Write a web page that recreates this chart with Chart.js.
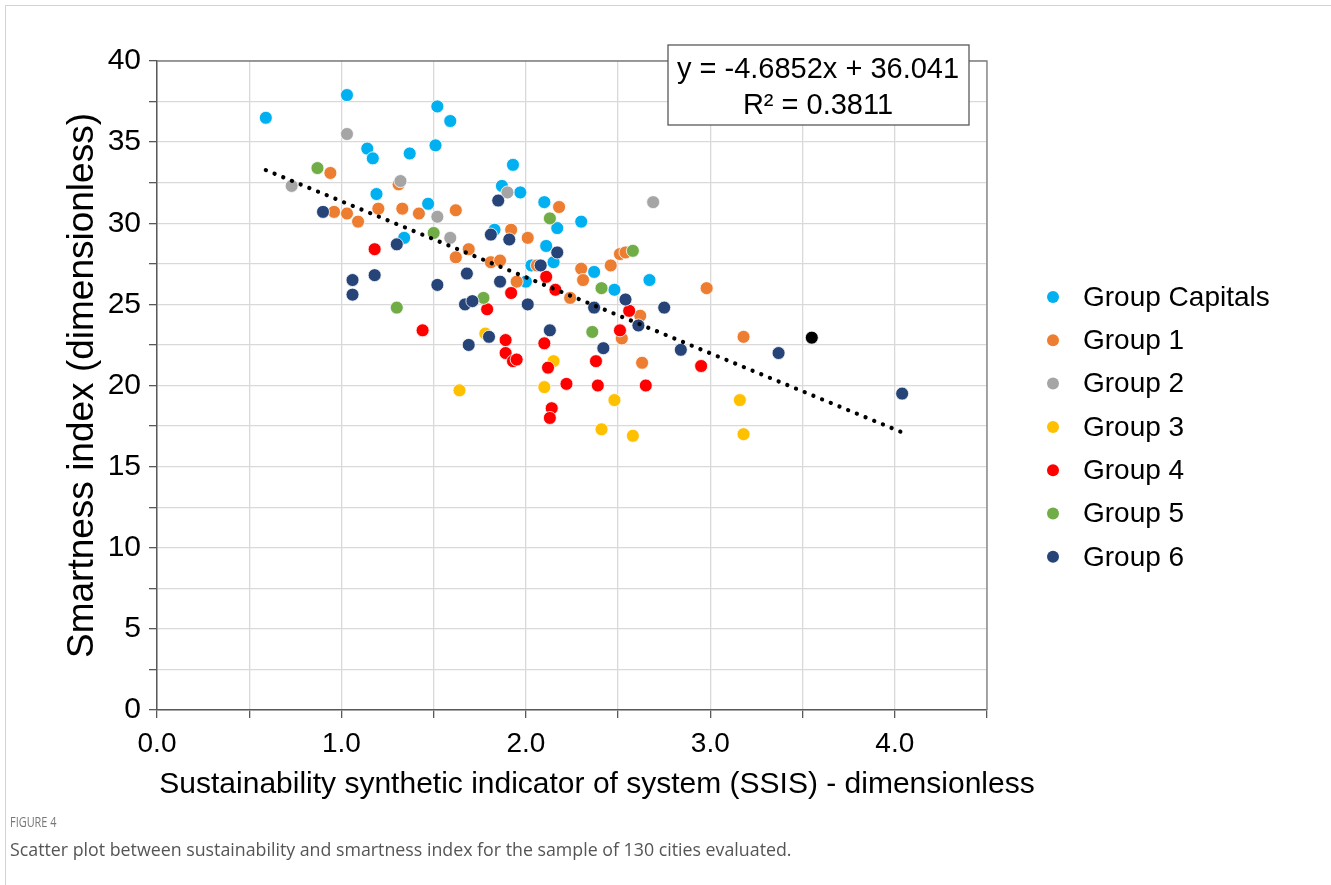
<!DOCTYPE html>
<html>
<head>
<meta charset="utf-8">
<title>Figure 4</title>
<script src="https://cdn.jsdelivr.net/npm/chart.js@4.4.1/dist/chart.umd.min.js"></script>
<style>
  html, body { margin: 0; padding: 0; background: #fff; }
  body { width: 1331px; height: 885px; position: relative; overflow: hidden; }
  #frame { position: absolute; left: 5px; top: 5px; right: 0; bottom: 0; border-top: 1px solid #d4d4d4; border-left: 1px solid #d4d4d4; }
  #chart { position: absolute; left: 0; top: 0; }
  #figlabel { position: absolute; left: 10px; top: 812px; font: 14px "Open Sans", sans-serif; color: #777; transform: scaleX(0.78); transform-origin: left top; }
  #caption { position: absolute; left: 10px; top: 837px; font: 17.8px "Open Sans", sans-serif; color: #555; }
</style>
</head>
<body>
<div id="frame"></div>
<canvas id="chart" width="1331" height="885"></canvas>
<div id="figlabel">FIGURE 4</div>
<div id="caption">Scatter plot between sustainability and smartness index for the sample of 130 cities evaluated.</div>
<script>
// DATA
const groupLabels = ['Group Capitals', 'Group 1', 'Group 2', 'Group 3', 'Group 4', 'Group 5', 'Group 6'];
const groupColors = ['#00B0F0', '#ED7D31', '#A5A5A5', '#FFC000', '#FF0000', '#70AD47', '#264478'];

const capitalsX = [0.59, 1.03, 1.52, 1.59, 1.14, 1.17, 1.37, 1.51, 1.19, 1.47, 1.34, 1.93, 1.87, 1.97, 2.10, 2.30, 2.17, 1.83, 2.11, 2.15, 2.00, 2.03, 2.37, 2.48, 2.67];
const capitalsY = [36.5, 37.9, 37.2, 36.3, 34.6, 34.0, 34.3, 34.8, 31.8, 31.2, 29.1, 33.6, 32.3, 31.9, 31.3, 30.1, 29.7, 29.6, 28.6, 27.6, 26.4, 27.4, 27.0, 25.9, 26.5];

const group1X = [0.94, 1.31, 1.62, 0.96, 1.03, 1.09, 1.20, 1.33, 1.42, 1.62, 2.18, 1.92, 2.01, 1.69, 1.81, 1.86, 2.06, 2.51, 2.54, 2.30, 2.31, 2.46, 2.98, 1.95, 2.24, 2.62, 2.52, 2.63, 3.18];
const group1Y = [33.1, 32.4, 30.8, 30.7, 30.6, 30.1, 30.9, 30.9, 30.6, 27.9, 31.0, 29.6, 29.1, 28.4, 27.6, 27.7, 27.4, 28.1, 28.2, 27.2, 26.5, 27.4, 26.0, 26.4, 25.4, 24.3, 22.9, 21.4, 23.0];

const group2X = [1.03, 0.73, 1.32, 1.52, 1.59, 1.90, 2.69];
const group2Y = [35.5, 32.3, 32.6, 30.4, 29.1, 31.9, 31.3];

const group3X = [1.64, 1.78, 2.15, 2.10, 2.48, 2.41, 2.58, 3.16, 3.18];
const group3Y = [19.7, 23.2, 21.5, 19.9, 19.1, 17.3, 16.9, 19.1, 17.0];

const group4X = [1.18, 1.44, 2.11, 1.92, 2.16, 1.79, 1.89, 1.89, 1.93, 1.95, 2.10, 2.12, 2.22, 2.39, 2.38, 2.56, 2.51, 2.65, 2.95, 2.14, 2.13];
const group4Y = [28.4, 23.4, 26.7, 25.7, 25.9, 24.7, 22.8, 22.0, 21.5, 21.6, 22.6, 21.1, 20.1, 20.0, 21.5, 24.6, 23.4, 20.0, 21.2, 18.6, 18.0];

const group5X = [0.87, 1.50, 1.30, 2.13, 2.58, 1.77, 2.41, 2.36];
const group5Y = [33.4, 29.4, 24.8, 30.3, 28.3, 25.4, 26.0, 23.3];

const group6X = [0.90, 1.30, 1.18, 1.06, 1.06, 1.52, 1.85, 1.81, 1.91, 2.17, 2.08, 1.68, 1.86, 1.67, 1.71, 2.01, 2.54, 2.37, 2.75, 2.61, 2.13, 1.80, 1.69, 2.42, 2.84, 3.37, 4.04];
const group6Y = [30.7, 28.7, 26.8, 26.5, 25.6, 26.2, 31.4, 29.3, 29.0, 28.2, 27.4, 26.9, 26.4, 25.0, 25.2, 25.0, 25.3, 24.8, 24.8, 23.7, 23.4, 23.0, 22.5, 22.3, 22.2, 22.0, 19.5];

// the single black point (not in the legend)
const otherX = [3.55];
const otherY = [22.95];

const xTickLabels = ['0.0', '1.0', '2.0', '3.0', '4.0'];
const yTickLabels = ['0', '5', '10', '15', '20', '25', '30', '35', '40'];

const xTitle = 'Sustainability synthetic indicator of system (SSIS) - dimensionless';
const yTitle = 'Smartness index (dimensionless)';

// linear trend as printed on the figure
const SLOPE = -4.6852;
const INTERCEPT = 36.041;
const R2 = 0.3811;

const groupsX = [capitalsX, group1X, group2X, group3X, group4X, group5X, group6X];
const groupsY = [capitalsY, group1Y, group2Y, group3Y, group4Y, group5Y, group6Y];

const FONT = '"Liberation Sans", Arial, sans-serif';

function toPoints(xs, ys) {
    return xs.map((x, i) => ({ x: x, y: ys[i] }));
}

const allX = groupsX.flat().concat(otherX);
const xMin = Math.min(...allX);
const xMax = Math.max(...allX);

const datasets = groupLabels.map((label, i) => ({
    label: label,
    data: toPoints(groupsX[i], groupsY[i]),
    backgroundColor: groupColors[i],
    borderColor: '#ffffff',
    borderWidth: 0.8,
    pointRadius: 6.5,
    pointHoverRadius: 6.5,
    order: 10 - i
}));

datasets.push({
    label: '',
    data: toPoints(otherX, otherY),
    backgroundColor: '#000000',
    borderColor: '#ffffff',
    borderWidth: 0.8,
    pointRadius: 6.5,
    order: 1
});

datasets.push({
    type: 'line',
    label: 'Linear trend',
    data: [
        { x: xMin, y: SLOPE * xMin + INTERCEPT },
        { x: xMax, y: SLOPE * xMax + INTERCEPT }
    ],
    borderColor: '#000000',
    borderWidth: 4.2,
    borderDash: [0.1, 9.3],
    borderCapStyle: 'round',
    pointRadius: 0,
    fill: false,
    order: -1
});

// top + right edge of the plot area
const plotBorder = {
    id: 'plotBorder',
    beforeDatasetsDraw(chart) {
        const { ctx, chartArea: a } = chart;
        ctx.save();
        ctx.strokeStyle = '#7f7f7f';
        ctx.lineWidth = 1.3;
        ctx.beginPath();
        ctx.moveTo(a.left, a.top);
        ctx.lineTo(a.right, a.top);
        ctx.lineTo(a.right, a.bottom);
        ctx.stroke();
        ctx.restore();
    }
};

// x axis title (wider than the plot area, so drawn here)
const xAxisTitle = {
    id: 'xAxisTitle',
    afterDraw(chart) {
        const ctx = chart.ctx;
        ctx.save();
        ctx.fillStyle = '#000000';
        ctx.font = '30px ' + FONT;
        ctx.textAlign = 'center';
        ctx.textBaseline = 'middle';
        ctx.fillText(xTitle, 597, 785);
        ctx.restore();
    }
};

// equation box
const eqBox = {
    id: 'eqBox',
    afterDraw(chart) {
        const ctx = chart.ctx;
        ctx.save();
        ctx.fillStyle = '#ffffff';
        ctx.fillRect(668, 45, 301, 80);
        ctx.strokeStyle = '#595959';
        ctx.lineWidth = 1.3;
        ctx.strokeRect(668, 45, 301, 80);
        ctx.fillStyle = '#000000';
        ctx.font = '29px ' + FONT;
        ctx.textAlign = 'center';
        ctx.textBaseline = 'middle';
        ctx.fillText('y = ' + SLOPE + 'x + ' + INTERCEPT, 818, 70);
        ctx.fillText('R\u00B2 = ' + R2, 818, 106);
        ctx.restore();
    }
};

// legend on the right
const sideLegend = {
    id: 'sideLegend',
    afterDraw(chart) {
        const ctx = chart.ctx;
        ctx.save();
        ctx.font = '28px ' + FONT;
        ctx.textAlign = 'left';
        ctx.textBaseline = 'middle';
        groupLabels.forEach((label, i) => {
            const y = 297 + i * 43.3;
            ctx.beginPath();
            ctx.arc(1053, y, 6, 0, Math.PI * 2);
            ctx.fillStyle = groupColors[i];
            ctx.fill();
            ctx.fillStyle = '#000000';
            ctx.fillText(label, 1083, y + 1);
        });
        ctx.restore();
    }
};

const ctx = document.getElementById('chart').getContext('2d');

const chart = new Chart(ctx, {
    type: 'scatter',
    data: { datasets: datasets },
    options: {
        responsive: false,
        animation: false,
        events: [],
        layout: { padding: { top: 61, right: 344, bottom: 0, left: 0 } },
        plugins: {
            legend: { display: false },
            tooltip: { enabled: false }
        },
        scales: {
            x: {
                type: 'linear',
                min: 0,
                max: 4.5,
                afterFit: (scale) => { scale.height = 175; },
                ticks: {
                    stepSize: 0.5,
                    autoSkip: false,
                    maxRotation: 0,
                    padding: 9,
                    color: '#000000',
                    font: { family: FONT, size: 28 },
                    callback: (value) => (value % 1 === 0 ? xTickLabels[value] : '')
                },
                grid: { color: '#d9d9d9', lineWidth: 1.3, tickColor: '#595959', tickWidth: 1.3, tickLength: 8 },
                border: { color: '#595959', width: 1.5 },
                title: { display: false }
            },
            y: {
                min: 0,
                max: 40,
                afterFit: (scale) => { scale.width = 157; },
                ticks: {
                    stepSize: 2.5,
                    autoSkip: false,
                    padding: 8,
                    color: '#000000',
                    font: { family: FONT, size: 30 },
                    callback: (value) => (value % 5 === 0 ? yTickLabels[value / 5] : '')
                },
                grid: { color: '#d9d9d9', lineWidth: 1.3, tickColor: '#595959', tickWidth: 1.3, tickLength: 8 },
                border: { color: '#595959', width: 1.5 },
                title: {
                    display: true,
                    text: yTitle,
                    color: '#000000',
                    font: { family: FONT, size: 37 },
                    padding: { top: 61, bottom: 0 }
                }
            }
        }
    },
    plugins: [plotBorder, xAxisTitle, eqBox, sideLegend]
});
</script>
</body>
</html>
